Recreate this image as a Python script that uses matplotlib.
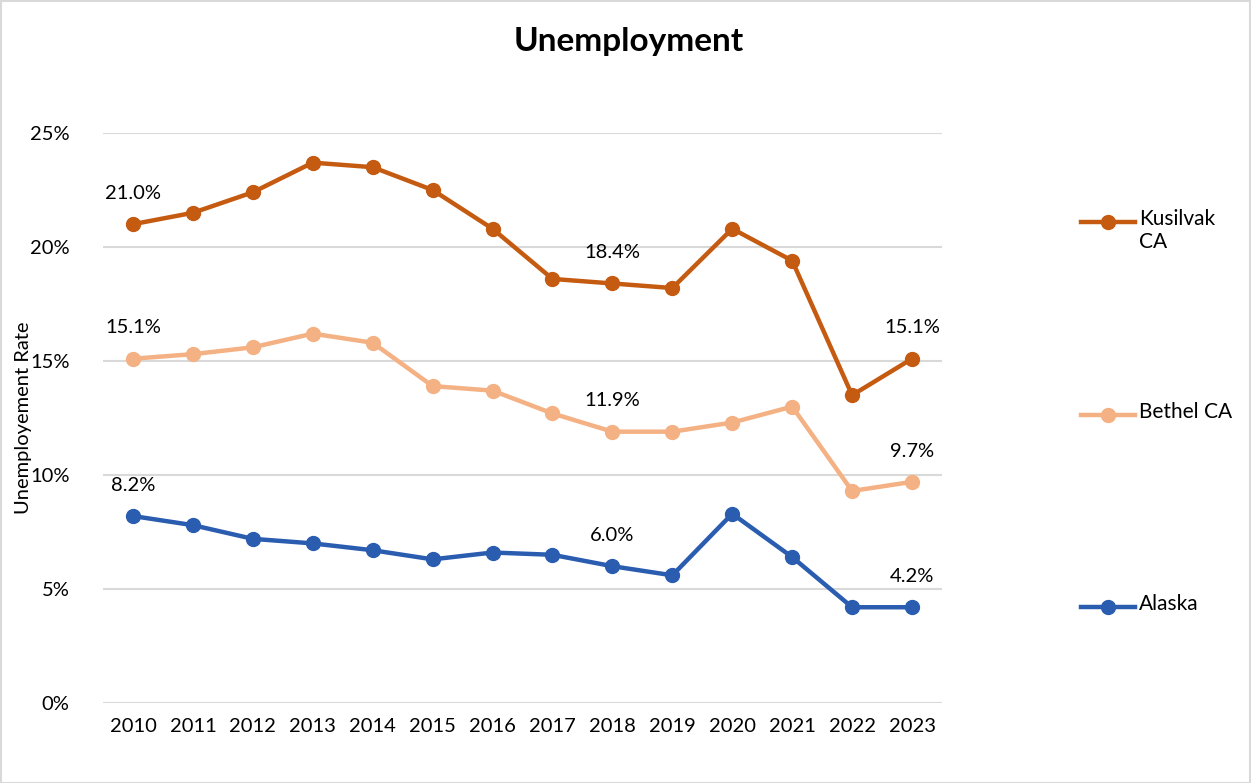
import matplotlib
matplotlib.use("Agg")
import matplotlib.pyplot as plt
from matplotlib.lines import Line2D
from matplotlib.patches import Rectangle

years = ["2010", "2011", "2012", "2013", "2014", "2015", "2016",
         "2017", "2018", "2019", "2020", "2021", "2022", "2023"]
kusilvak = [21.0, 21.5, 22.4, 23.7, 23.5, 22.5, 20.8, 18.6, 18.4, 18.2, 20.8, 19.4, 13.5, 15.1]
bethel = [15.1, 15.3, 15.6, 16.2, 15.8, 13.9, 13.7, 12.7, 11.9, 11.9, 12.3, 13.0, 9.3, 9.7]
alaska = [8.2, 7.8, 7.2, 7.0, 6.7, 6.3, 6.6, 6.5, 6.0, 5.6, 8.3, 6.4, 4.2, 4.2]
series_names = ["Kusilvak\nCA", "Bethel CA", "Alaska"]
colors = ["#C55A11", "#F4B183", "#2A5CB0"]
label_idx = [0, 8, 13]
yticks = [0, 5, 10, 15, 20, 25]

plt.rcParams['font.family'] = ['Lato', 'DejaVu Sans']

fig = plt.figure(figsize=(12.51, 7.83), dpi=100)
ax = fig.add_axes([103/1251, 1-703/783, (942-103)/1251, (703-133)/783])

x = list(range(len(years)))
all_series = [kusilvak, bethel, alaska]
for vals, c in zip(all_series, colors):
    ax.plot(x, vals, color=c, lw=3.2, marker='o', markersize=10, zorder=3,
            solid_capstyle='round')
    for i in label_idx:
        ax.annotate(f"{vals[i]:.1f}%", (i, vals[i]), xytext=(0, 16),
                    textcoords='offset points', ha='center', va='bottom',
                    fontsize=14.5, color='black')

ax.set_xlim(-0.5, len(years) - 0.5)
ax.set_ylim(0, 25)
ax.set_xticks(x)
ax.set_xticklabels(years, fontsize=14.5)
ax.set_yticks(yticks)
ax.set_yticklabels([f"{v}%" for v in yticks], fontsize=14.5)
ax.tick_params(length=0, pad=11)
ax.tick_params(axis='y', pad=24)
ax.grid(axis='y', color='#D9D9D9', lw=1.5, zorder=0)
for s in ax.spines.values():
    s.set_visible(False)
ax.set_ylabel("Unemployement Rate", fontsize=14.5)
ax.yaxis.set_label_coords(-0.085, 0.5, transform=ax.transAxes)

fig.text(629/1251, 1-42/783, "Unemployment", ha='center', va='center',
         fontsize=24, fontweight='bold')

# legend
leg_y = [222, 415, 607]
for name, c, yy in zip(series_names, colors, leg_y):
    fy = 1 - yy/783
    fig.add_artist(Line2D([1081/1251, 1135/1251], [fy, fy], color=c, lw=3.2,
                          transform=fig.transFigure))
    fig.add_artist(Line2D([1108/1251], [fy], color=c, marker='o', markersize=10,
                          transform=fig.transFigure))
    fig.text(1139/1251, fy + 13/783, name, ha='left', va='top', fontsize=15,
             linespacing=1.2)

fig.add_artist(Rectangle((0.5/1251, 0.5/783), 1 - 1.5/1251, 1 - 1.5/783,
                         transform=fig.transFigure, fill=False,
                         edgecolor='#D9D9D9', lw=1.5))

fig.savefig("out.png", dpi=100)
